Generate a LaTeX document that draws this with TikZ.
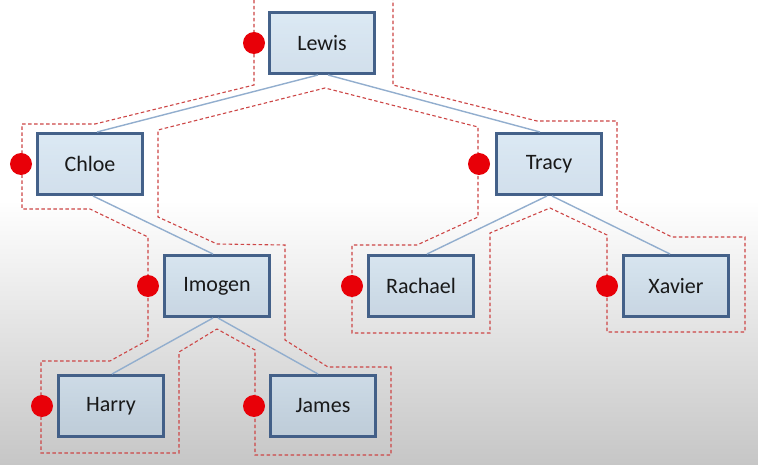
\documentclass[tikz,border=0pt]{standalone}
\usepackage{fontspec}
\setmainfont{Carlito}
\definecolor{boxborder}{RGB}{60,90,132}
\definecolor{boxtop}{RGB}{198,220,238}
\definecolor{boxbot}{RGB}{182,204,224}
\definecolor{edgec}{RGB}{146,174,206}
\definecolor{tourc}{RGB}{205,70,70}
\definecolor{dotred}{RGB}{232,0,8}
\definecolor{bgbottom}{RGB}{198,198,198}
\definecolor{textc}{RGB}{25,25,25}
\begin{document}
\begin{tikzpicture}[x=1pt,y=-1pt,
  treebox/.style={draw=boxborder, line width=3pt, top color=boxtop, bottom color=boxbot,
    fill opacity=0.62, text opacity=1, draw opacity=0.95,
    minimum width=105pt, minimum height=61pt, inner sep=0pt,
    font=\fontsize{22}{26}\selectfont, text=textc},
  treeedge/.style={draw=edgec, line width=1.4pt},
  tour/.style={draw=tourc, line width=1.1pt, dash pattern=on 3.5pt off 2.5pt},
  visitdot/.style={circle, fill=dotred, minimum size=22pt, inner sep=0pt}]
\useasboundingbox (0,0) rectangle (758,465);
\fill[white] (0,0) rectangle (758,200);
\shade[top color=white, bottom color=bgbottom] (0,200) rectangle (758,465);

% nodes
\node[treebox] (Lewis)   at (322,43)  {Lewis};
\node[treebox] (Chloe)   at (90,164)  {Chloe};
\node[treebox] (Tracy)   at (549,164) {Tracy};
\node[treebox] (Imogen)  at (217,286) {Imogen};
\node[treebox] (Rachael) at (421,286) {Rachael};
\node[treebox] (Xavier)  at (676,286) {Xavier};
\node[treebox] (Harry)   at (111,406) {Harry};
\node[treebox] (James)   at (323,406) {James};

% tree edges
\draw[treeedge] ([xshift=-4pt]Lewis.south) -- ([xshift=7pt]Chloe.north);
\draw[treeedge] ([xshift=6pt]Lewis.south) -- ([xshift=-9pt]Tracy.north);
\draw[treeedge] ([xshift=3pt]Chloe.south) -- ([xshift=-4pt]Imogen.north);
\draw[treeedge] ([xshift=-2pt]Tracy.south) -- ([xshift=6pt]Rachael.north);
\draw[treeedge] ([xshift=3pt]Tracy.south) -- ([xshift=-6pt]Xavier.north);
\draw[treeedge] ([xshift=-4pt]Imogen.south) -- ([xshift=1pt]Harry.north);
\draw[treeedge] ([xshift=1pt]Imogen.south) -- ([xshift=-5pt]James.north);

% Euler tour contour
\draw[tour] (254,0) -- (254,85) -- (95,124) -- (22,124) -- (22,209) -- (90,209)
  -- (148,237) -- (148,340) -- (110,361) -- (41,361) -- (41,453) -- (179,453)
  -- (179,352) -- (217,329) -- (255,350) -- (255,455) -- (391,455) -- (391,367)
  -- (328,367) -- (285,340) -- (285,245) -- (217,244) -- (158,217) -- (158,130)
  -- (325,88) -- (478,127) -- (478,217) -- (417,245) -- (352,245) -- (352,333)
  -- (490,333) -- (490,233) -- (550,208) -- (607,235) -- (607,332) -- (745,332)
  -- (745,237) -- (672,237) -- (617,210) -- (617,121) -- (537,121) -- (393,85)
  -- (393,0);

% visit dots
\node[visitdot] (dLewis)   at (254,43)  {};
\node[visitdot] (dChloe)   at (21,164)  {};
\node[visitdot] (dImogen)  at (148,286) {};
\node[visitdot] (dHarry)   at (42,406)  {};
\node[visitdot] (dJames)   at (254,406) {};
\node[visitdot] (dTracy)   at (479,164) {};
\node[visitdot] (dRachael) at (352,286) {};
\node[visitdot] (dXavier)  at (607,286) {};
\end{tikzpicture}
\end{document}
